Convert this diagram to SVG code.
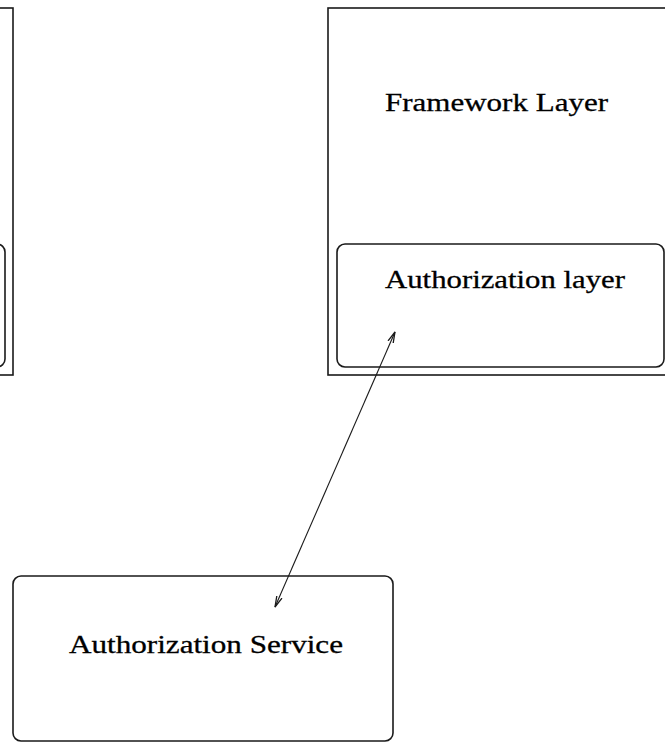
<svg xmlns="http://www.w3.org/2000/svg" width="665" height="742" viewBox="0 0 665 742">
  <defs>
    <style>
      .box { fill: none; stroke: #1a1a1a; stroke-width: 1.6; }
      .label { font-family: "Liberation Serif", "Times New Roman", serif; font-size: 26px; fill: #000; stroke: #000; stroke-width: 0.3; }
      .link { fill: none; stroke: #1a1a1a; stroke-width: 1.1; }
    </style>
    <marker id="stick" viewBox="0 0 12 8" refX="11" refY="4" markerWidth="12" markerHeight="8" markerUnits="userSpaceOnUse" orient="auto-start-reverse">
      <path d="M0,1.2 L11,4 L0,6.8" fill="none" stroke="#1a1a1a" stroke-width="1.3"/>
    </marker>
  </defs>

  <rect width="665" height="742" fill="#fff"/>

  <!-- left column, mostly outside the page -->
  <g id="left-layer">
    <rect class="box" x="-324" y="8" width="337" height="367"/>
    <rect class="box" x="-322" y="244" width="327" height="123" rx="8" ry="8"/>
  </g>

  <!-- framework layer with its authorization layer -->
  <g id="framework-layer">
    <rect class="box" x="328" y="8" width="345" height="367"/>
    <text class="label" x="385" y="111" textLength="223" lengthAdjust="spacingAndGlyphs">Framework Layer</text>
  </g>
  <g id="authorization-layer">
    <rect class="box" x="337" y="244" width="327" height="123" rx="8" ry="8"/>
    <text class="label" x="385" y="288" textLength="240" lengthAdjust="spacingAndGlyphs">Authorization layer</text>
  </g>

  <g id="authorization-service">
    <rect class="box" x="13" y="576" width="380" height="165" rx="8" ry="8"/>
    <text class="label" x="69" y="653" textLength="274" lengthAdjust="spacingAndGlyphs">Authorization Service</text>
  </g>

  <g id="connectors">
    <line class="link" x1="275" y1="607" x2="395" y2="332" marker-start="url(#stick)" marker-end="url(#stick)"/>
  </g>
</svg>
